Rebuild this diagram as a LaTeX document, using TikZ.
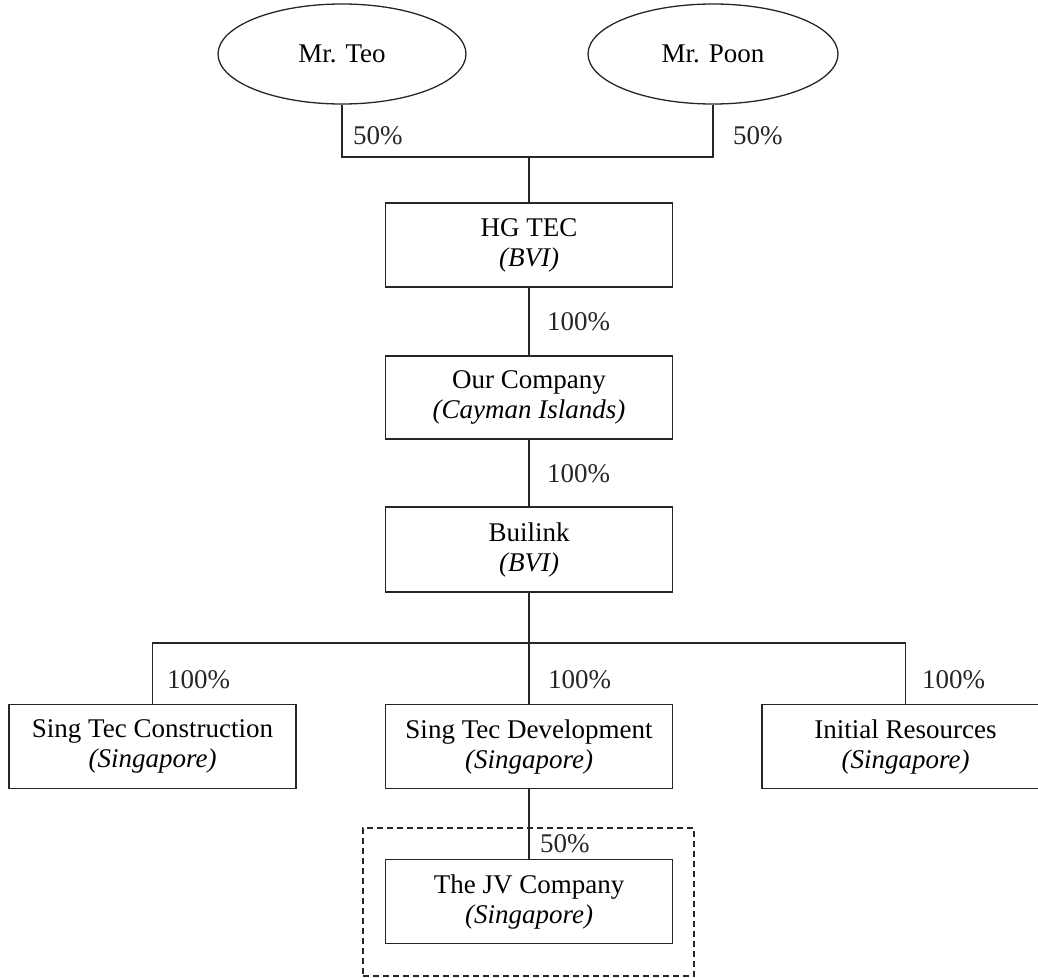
\documentclass[tikz,border=0pt]{standalone}
\usepackage{fontspec}
\setmainfont{Liberation Serif}
\usetikzlibrary{shapes.geometric}
\begin{document}
\begin{tikzpicture}[x=1pt,y=-1pt,
  every node/.style={font=\fontsize{27}{30}\selectfont},
  line/.style={draw=black!85, line width=1.3pt},
  person/.style={ellipse, line, minimum height=100pt, inner sep=0pt},
  cobox/.style={rectangle, line, minimum width=287pt, minimum height=84pt, align=center, inner sep=0pt},
  pct/.style={anchor=base west, inner sep=0pt, text=black!85},
  groupbox/.style={rectangle, draw=black!85, line width=1.3pt, dash pattern=on 6pt off 4pt, minimum width=331pt, minimum height=148pt, inner sep=0pt}
]
\useasboundingbox (0,0) rectangle (1038,977);

\node[person, minimum width=248pt] (teo) at (342,54) {Mr. Teo};
\node[person, minimum width=250pt] (poon) at (713,54) {Mr. Poon};

\node[cobox] (hg) at (529,245) {HG TEC\\\textit{(BVI)}};
\node[cobox, minimum height=83pt] (our) at (529,397.5) {Our Company\\\textit{(Cayman Islands)}};
\node[cobox, minimum height=85pt] (bui) at (529,549.5) {Builink\\\textit{(BVI)}};

\node[cobox] (stc) at (152.5,746.5) {Sing Tec Construction\\\textit{(Singapore)}};
\node[cobox] (std) at (529,746.5) {Sing Tec Development\\\textit{(Singapore)}};
\node[cobox] (ir) at (905.5,746.5) {Initial Resources\\\textit{(Singapore)}};

\node[groupbox] (grp) at (528.5,902) {};
\node[cobox] (jv) at (529,901.5) {The JV Company\\\textit{(Singapore)}};

\coordinate (j1) at (529,157);
\coordinate (j2) at (529,643);

\draw[line] (teo.south) -- (teo.south |- j1) -- (poon.south |- j1) -- (poon.south);
\draw[line] (j1) -- (hg.north);
\draw[line] (hg.south) -- (our.north);
\draw[line] (our.south) -- (bui.north);
\draw[line] (bui.south) -- (std.north);
\draw[line] (stc.north) -- (stc.north |- j2) -- (ir.north |- j2) -- (ir.north);
\draw[line] (std.south) -- (jv.north);

\node[pct] (p1) at (353,144) {50\%};
\node[pct] (p2) at (733,144) {50\%};
\node[pct] (p3) at (547,330) {100\%};
\node[pct] (p4) at (547,482) {100\%};
\node[pct] (p5) at (167,688) {100\%};
\node[pct] (p6) at (548,688) {100\%};
\node[pct] (p7) at (922,688) {100\%};
\node[pct] (p8) at (540,852) {50\%};
\end{tikzpicture}
\end{document}
